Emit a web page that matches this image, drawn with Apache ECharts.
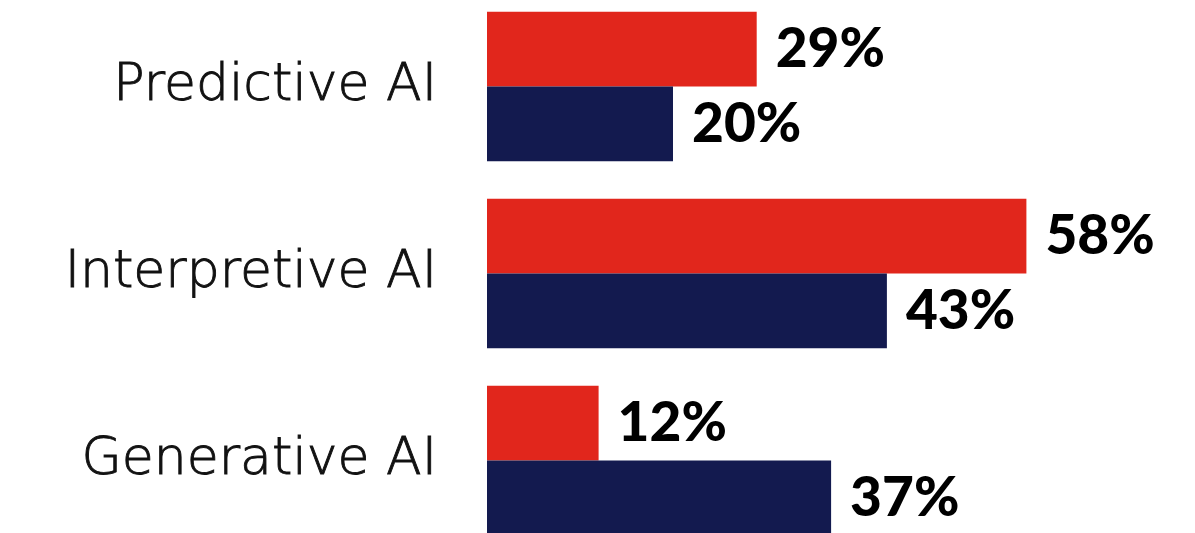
<!DOCTYPE html>
<html>
<head>
<meta charset="utf-8">
<script src="https://cdn.jsdelivr.net/npm/echarts@6/dist/echarts.min.js"></script>
<style>
  html, body { margin: 0; padding: 0; background: #ffffff; }
  #chart { width: 1195px; height: 533px; }
</style>
</head>
<body>
<div id="chart"></div>
<script>
// Adoption share by AI type (percent)
const categories = ['Predictive AI', 'Interpretive AI', 'Generative AI'];
const seriesRed = [29, 58, 12];
const seriesNavy = [20, 43, 37];

const chart = echarts.init(document.getElementById('chart'));

const valueLabel = {
  show: true,
  position: 'right',
  distance: 19,
  formatter: '{c}%',
  color: '#000000',
  fontFamily: 'Lato, Inter, sans-serif',
  fontWeight: 900,
  fontSize: 55
};

chart.setOption({
  animation: false,
  grid: {
    left: 487, top: -7, bottom: -21, width: 930,
    outerBoundsMode: 'none',
    containLabel: false
  },
  xAxis: { type: 'value', min: 0, max: 100, show: false },
  yAxis: {
    type: 'category',
    data: categories,
    inverse: true,
    axisLine: { show: false },
    axisTick: { show: false },
    splitLine: { show: false },
    axisLabel: {
      margin: 50,
      color: '#111111',
      fontFamily: '"DejaVu Sans", sans-serif',
      fontWeight: 200,
      fontSize: 52,
      textBorderColor: '#111111',
      textBorderWidth: 0.9
    }
  },
  series: [
    {
      type: 'bar',
      data: seriesRed,
      barGap: '0%',
      barCategoryGap: '20%',
      itemStyle: { color: '#E1261C' },
      label: valueLabel
    },
    {
      type: 'bar',
      data: seriesNavy,
      barGap: '0%',
      barCategoryGap: '20%',
      itemStyle: { color: '#131A4F' },
      label: valueLabel
    }
  ]
});
</script>
</body>
</html>
